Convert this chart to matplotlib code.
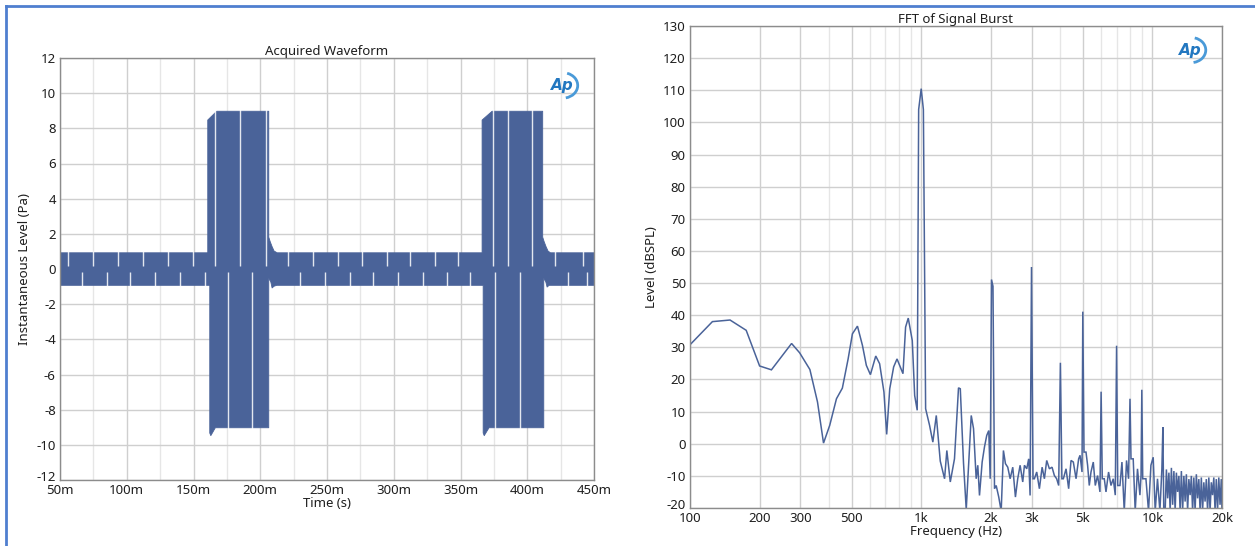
import matplotlib
matplotlib.use("Agg")
import matplotlib.pyplot as plt
import numpy as np
from matplotlib.lines import Line2D
from matplotlib.patches import Arc
from matplotlib.ticker import FixedLocator, NullFormatter
from matplotlib.transforms import ScaledTranslation

plt.rcParams['font.family'] = ['Noto Sans', 'DejaVu Sans']
plt.rcParams['axes.unicode_minus'] = False

# ---------------- Data: acquired waveform (ms, Pa) ----------------
upper_t = [50, 160.3, 160.3, 167.0, 206.0, 206.0, 207.0, 208.5, 210.0, 212.3,
           365.8, 365.8, 373.3, 411.2, 411.2, 412.2, 413.7, 415.2, 417.0, 449.6]
upper_v = [0.95, 0.95, 8.5, 9.0, 9.0, 1.84, 1.6, 1.3, 1.05, 0.95,
           0.95, 8.5, 9.0, 9.0, 1.84, 1.6, 1.3, 1.05, 0.95, 0.95]
lower_t = [50, 161.8, 161.8, 162.6, 166.0, 206.0, 206.0, 207.5, 208.5, 210.0, 212.0,
           366.6, 366.6, 367.4, 371.0, 412.0, 412.0, 413.5, 414.5, 416.0, 418.0, 449.6]
lower_v = [-0.9, -0.9, -9.3, -9.45, -9.0, -9.0, -0.5, -0.7, -1.05, -0.95, -0.9,
           -0.9, -9.3, -9.45, -9.0, -9.0, -0.5, -0.7, -1.0, -0.9, -0.9, -0.9]
gap_top_ms = [56.0, 74.7, 93.4, 112.2, 130.9, 149.6, 166.1, 184.8, 204.6,
              221.0, 239.7, 258.4, 276.0, 294.7, 312.2, 330.9, 348.4,
              374.5, 385.7, 403.3, 421.0, 442.0]
gap_bot_ms = [66.5, 85.2, 102.4, 121.2, 139.9, 158.6, 175.8, 193.8,
              229.8, 248.5, 267.2, 284.7, 303.4, 322.1, 339.6, 357.1,
              375.8, 394.5, 430.7, 445.0]

# ---------------- Data: FFT of signal burst (Hz, dBSPL) ----------------
fft_f = [100, 125, 149, 175, 200, 225, 275, 298, 330, 356, 378, 402, 430, 456,
         483, 504, 530, 557, 579, 603, 636, 661, 690, 709, 731, 760, 786, 834,
         856, 879, 915, 937, 961, 975, 1000, 1022, 1045,
         1087, 1123, 1162, 1209, 1262, 1291, 1336, 1393, 1450, 1476, 1524, 1566,
         1646, 1684, 1729, 1757, 1787, 1835, 1878, 1921, 1960, 1988,
         2014, 2044, 2075, 2110, 2165, 2218, 2268, 2314, 2368, 2425, 2489,
         2556, 2615, 2678, 2749, 2796, 2861, 2917, 2958,
         3000, 3045, 3087, 3160, 3245, 3334, 3411, 3490, 3585, 3681, 3767,
         3854, 3932, 4000, 4060, 4120, 4232, 4343, 4447, 4550, 4675, 4797,
         4864, 4961, 5000, 5060, 5162, 5245, 5333, 5425, 5550, 5662, 5792,
         5932, 6000, 6070, 6193, 6299, 6463, 6620, 6772, 6909, 7000, 7080,
         7239, 7384, 7555, 7730, 7886, 8000, 8080, 8260, 8426, 8620, 8831,
         8930, 9000, 9080, 9376, 9621, 9853, 10080, 10283, 10520, 10775,
         10990, 11100, 11200,
         11355, 11497, 11641, 11786, 11933, 12083, 12234, 12387, 12541, 12698,
         12857, 13018, 13180, 13345, 13512, 13681, 13852, 14025, 14200, 14378,
         14558, 14740, 14924, 15110, 15299, 15490, 15684, 15880, 16079, 16280,
         16483, 16689, 16898, 17109, 17323, 17540, 17759, 17981, 18206, 18433,
         18664, 18897, 19133, 19372, 19614, 19859, 20000]
fft_db = [30.8, 38.0, 38.5, 35.3, 24.2, 23.0, 31.2, 28.3, 23.1, 13.0, 0.2, 5.7,
          14.0, 17.3, 26.4, 34.2, 36.6, 30.6, 24.4, 21.5, 27.3, 24.9, 16.1,
          2.9, 17.1, 23.9, 26.4, 21.8, 36.3, 39.1, 32.1, 15.0, 10.4, 104.0,
          110.5, 104.0, 10.9,
          5.7, 0.5, 8.8, -5.4, -10.9, -2.1, -11.9, -4.7, 17.4, 17.1, -6.0, -20.5,
          8.8, 4.7, -10.9, -6.7, -16.1, -5.7, -1.0, 2.6, 4.1, -10.9,
          51.1, 49.0, -14.0, -13.0, -16.6, -21.0, -2.1, -6.2, -7.3, -10.9, -7.3,
          -16.6, -10.9, -6.7, -11.9, -6.7, -7.8, -4.7, -16.1,
          55.0, -10.9, -10.9, -8.8, -14.0, -7.3, -10.9, -5.2, -7.8, -7.3, -9.9,
          -10.9, -13.0, 25.2, -10.9, -10.9, -7.8, -14.0, -5.2, -5.7, -10.9, -4.7,
          -3.6, -8.8, 41.1, -2.6, -2.6, -6.7, -13.0, -8.8, -5.7, -13.0, -9.9,
          -15.0, 16.2, -10.9, -10.9, -15.0, -8.8, -13.0, -10.9, -16.0, 30.5, -13.0,
          -13.0, -5.7, -21.0, -5.2, -10.9, 14.0, -4.7, -4.7, -21.0, -7.8, -16.0,
          -9.9, 16.8, -10.9, -10.9, -21.0, -6.7, -4.2, -21.0, -10.9, -21.0,
          -7.8, 5.2, -21.0,
          -21.0, -8.0, -17.0, -9.0, -21.0, -7.5, -19.0, -8.5, -21.0, -9.0,
          -15.0, -10.0, -21.0, -8.5, -21.0, -10.0, -18.0, -9.5, -21.0, -11.0,
          -16.0, -10.0, -21.0, -10.5, -21.0, -9.5, -17.0, -11.0, -21.0, -10.5,
          -21.0, -12.0, -18.0, -11.0, -21.0, -10.5, -21.0, -12.0, -16.0, -10.5,
          -21.0, -11.0, -21.0, -10.5, -19.0, -11.0, -21.0]

time_ticks = [50, 100, 150, 200, 250, 300, 350, 400, 450]
time_labels = ['50m', '100m', '150m', '200m', '250m', '300m', '350m', '400m', '450m']
wave_yticks = list(range(-12, 13, 2))
freq_ticks = [100, 200, 300, 500, 1000, 2000, 3000, 5000, 10000, 20000]
freq_labels = ['100', '200', '300', '500', '1k', '2k', '3k', '5k', '10k', '20k']
freq_minor = [400, 600, 700, 800, 900, 4000, 6000, 7000, 8000, 9000]
fft_yticks = list(range(-20, 131, 10))

# ---------------- Styling ----------------
trace_color = '#4a6399'
grid_major = '#cfcfcf'
grid_minor = '#e6e6e6'
spine_color = '#8c8c8c'
text_color = '#1e1e1e'
fs = 9.5

fig = plt.figure(figsize=(12.55, 5.46), dpi=100)

def style_axes(ax):
    for s in ax.spines.values():
        s.set_color(spine_color)
        s.set_linewidth(1.0)
    ax.tick_params(which='both', length=0, labelsize=fs, colors=text_color)
    ax.tick_params(axis='x', pad=3)
    ax.tick_params(axis='y', pad=3)
    ax.set_axisbelow(True)

def lift_bottom_ylabel(ax):
    lab = ax.get_yticklabels()[0]
    lab.set_transform(lab.get_transform() + ScaledTranslation(0, 4 / 100, fig.dpi_scale_trans))

def ap_logo(ax, x, y, w, h):
    ax.text(x, y, 'Ap', transform=ax.transAxes, fontsize=11, fontweight='bold',
            fontstyle='italic', color='#2277c0', ha='center', va='center',
            family='DejaVu Sans')
    ax.add_patch(Arc((x + 0.002, y), w, h, theta1=-80, theta2=75,
                     transform=ax.transAxes, color='#4a9ad8', linewidth=2.0))

# Left panel
ax1 = fig.add_axes([60 / 1255, 1 - 480 / 546, 534 / 1255, 422 / 546])
style_axes(ax1)
ax1.set_xlim(50, 450)
ax1.set_ylim(-12, 12)
ax1.set_xticks(time_ticks)
ax1.set_xticklabels(time_labels)
ax1.xaxis.set_minor_locator(FixedLocator([t + 25 for t in time_ticks[:-1]]))
ax1.set_yticks(wave_yticks)
ax1.set_yticklabels([str(v) for v in wave_yticks])
lift_bottom_ylabel(ax1)
ax1.grid(which='major', color=grid_major, linewidth=1.0)
ax1.grid(which='minor', axis='x', color=grid_minor, linewidth=1.0)
ax1.fill_between(upper_t, 0, upper_v, color=trace_color, linewidth=0.6, edgecolor=trace_color)
ax1.fill_between(lower_t, lower_v, 0, color=trace_color, linewidth=0.6, edgecolor=trace_color)
gt = np.array(gap_top_ms)
gb = np.array(gap_bot_ms)
ax1.vlines(gt, 0.15, np.interp(gt, upper_t, upper_v) + 0.1, color='white', linewidth=1.0, alpha=0.85)
ax1.vlines(gb, np.interp(gb, lower_t, lower_v) - 0.1, -0.15, color='white', linewidth=1.0, alpha=0.85)
ax1.set_title('Acquired Waveform', fontsize=fs, color=text_color, pad=2)
ax1.set_xlabel('Time (s)', fontsize=fs, color=text_color, labelpad=0)
ax1.set_ylabel('Instantaneous Level (Pa)', fontsize=fs, color=text_color, labelpad=4)
ap_logo(ax1, 0.94, 0.935, 0.055, 0.06)

# Right panel
ax2 = fig.add_axes([690 / 1255, 1 - 508 / 546, 532 / 1255, 482 / 546])
style_axes(ax2)
ax2.set_xscale('log')
ax2.set_xlim(100, 20000)
ax2.set_ylim(-20, 130)
ax2.xaxis.set_major_locator(FixedLocator(freq_ticks))
ax2.set_xticklabels(freq_labels)
ax2.xaxis.set_minor_locator(FixedLocator(freq_minor))
ax2.xaxis.set_minor_formatter(NullFormatter())
ax2.set_yticks(fft_yticks)
ax2.set_yticklabels([str(v) for v in fft_yticks])
lift_bottom_ylabel(ax2)
ax2.grid(which='major', color=grid_major, linewidth=1.0)
ax2.grid(which='minor', axis='x', color=grid_minor, linewidth=1.0)
ax2.plot(fft_f, fft_db, color=trace_color, linewidth=1.1, solid_joinstyle='miter')
ax2.set_title('FFT of Signal Burst', fontsize=fs, color=text_color, pad=2)
ax2.set_xlabel('Frequency (Hz)', fontsize=fs, color=text_color, labelpad=0)
ax2.set_ylabel('Level (dBSPL)', fontsize=fs, color=text_color, labelpad=4)
ap_logo(ax2, 0.94, 0.95, 0.055, 0.052)

# window frame (left and top)
frame_c = '#4f7fcf'
fig.add_artist(Line2D([6 / 1255, 6 / 1255], [0, 1 - 6 / 546], color=frame_c, linewidth=2))
fig.add_artist(Line2D([6 / 1255, 1], [1 - 6 / 546, 1 - 6 / 546], color=frame_c, linewidth=2))

fig.savefig('out.png', dpi=100)
